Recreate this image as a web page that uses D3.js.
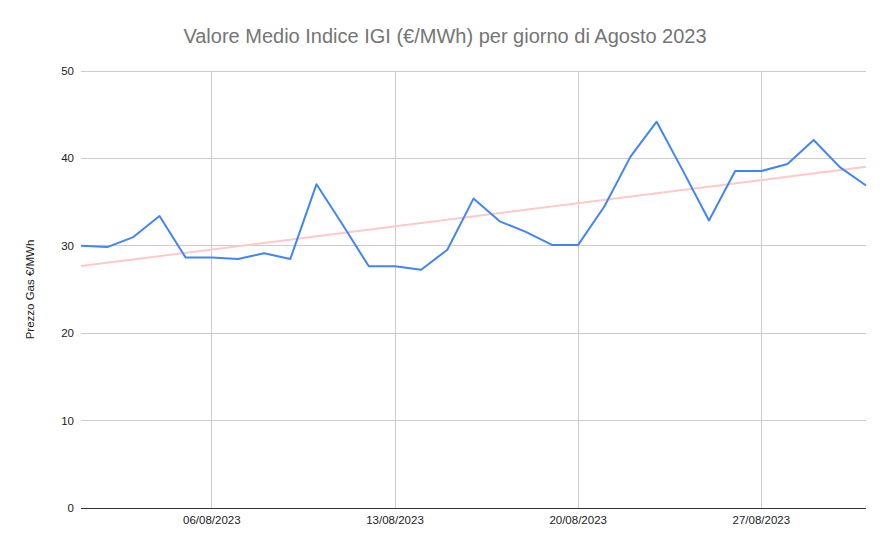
<!DOCTYPE html>
<html>
<head>
<meta charset="utf-8">
<script src="https://cdn.jsdelivr.net/npm/d3@7"></script>
<style>
  body { margin: 0; background: #fff; }
  svg { display: block; font-family: "Liberation Sans", Arial, sans-serif; }
</style>
</head>
<body>
<svg id="chart" width="890" height="553"></svg>
<script>
const title = "Valore Medio Indice IGI (€/MWh) per giorno di Agosto 2023";
const yTitle = "Prezzo Gas €/MWh";
const days = d3.range(1, 32).map(d => `2023-08-${String(d).padStart(2, "0")}`);
const values = [30.0, 29.85, 31.0, 33.4, 28.65, 28.65, 28.5, 29.15, 28.5, 37.05,
  32.4, 27.65, 27.65, 27.26, 29.55, 35.4, 32.8, 31.6, 30.1, 30.1,
  34.5, 40.2, 44.2, 38.6, 32.9, 38.55, 38.55, 39.35, 42.1, 39.0, 36.9];
const xTickDates = ["2023-08-06", "2023-08-13", "2023-08-20", "2023-08-27"];
const yTicks = [0, 10, 20, 30, 40, 50];

const parse = d3.utcParse("%Y-%m-%d");
const fmt = d3.utcFormat("%d/%m/%Y");
const data = days.map((d, i) => ({ date: parse(d), value: values[i] }));

const svg = d3.select("#chart");
const m = { left: 81, right: 24, top: 71, bottom: 45 };
const W = 890, H = 553;

const x = d3.scaleUtc()
  .domain([parse(days[0]), parse(days[days.length - 1])])
  .range([m.left, W - m.right]);
const y = d3.scaleLinear().domain([0, 50]).range([H - m.bottom, m.top]);

// horizontal gridlines
svg.append("g").selectAll("line").data(yTicks.filter(t => t > 0)).join("line")
  .attr("x1", m.left).attr("x2", W - m.right)
  .attr("y1", d => y(d)).attr("y2", d => y(d))
  .attr("stroke", "#cccccc").attr("stroke-width", 1).attr("shape-rendering", "crispEdges");

// vertical gridlines
const xTicks = xTickDates.map(parse);
svg.append("g").selectAll("line").data(xTicks).join("line")
  .attr("x1", d => x(d)).attr("x2", d => x(d))
  .attr("y1", m.top).attr("y2", H - m.bottom)
  .attr("stroke", "#cccccc").attr("stroke-width", 1).attr("shape-rendering", "crispEdges");

// y tick labels
svg.append("g").selectAll("text").data(yTicks).join("text")
  .attr("x", m.left - 7).attr("y", d => y(d)).attr("dy", "0.35em")
  .attr("text-anchor", "end").attr("font-size", 11.5).attr("fill", "#222")
  .text(d => d);

// x tick labels
svg.append("g").selectAll("text").data(xTicks).join("text")
  .attr("x", d => x(d)).attr("y", H - m.bottom + 16)
  .attr("text-anchor", "middle").attr("font-size", 11.5).attr("fill", "#222")
  .text(d => fmt(d));

// baseline
svg.append("line")
  .attr("x1", m.left).attr("x2", W - m.right)
  .attr("y1", y(0)).attr("y2", y(0))
  .attr("stroke", "#333").attr("stroke-width", 1).attr("shape-rendering", "crispEdges");

// linear trendline (least squares)
const xs = data.map((d, i) => i), n = xs.length;
const mx = d3.mean(xs), my = d3.mean(values);
const slope = d3.sum(xs, (xi, i) => (xi - mx) * (values[i] - my)) / d3.sum(xs, xi => (xi - mx) ** 2);
const icpt = my - slope * mx;
const trend = [0, n - 1].map(i => ({ date: data[i].date, value: icpt + slope * i }));
svg.append("path").datum(trend)
  .attr("fill", "none").attr("stroke", "#ffc9c9").attr("stroke-width", 2)
  .attr("d", d3.line().x(d => x(d.date)).y(d => y(d.value)));

// series line
svg.append("path").datum(data)
  .attr("fill", "none").attr("stroke", "#4285f4").attr("stroke-width", 2)
  .attr("stroke-linejoin", "round")
  .attr("d", d3.line().x(d => x(d.date)).y(d => y(d.value)));

// title
svg.append("text").attr("x", 445).attr("y", 43).attr("text-anchor", "middle")
  .attr("font-size", 20).attr("fill", "#757575").text(title);

// y axis title
svg.append("text")
  .attr("transform", `translate(34, ${(m.top + H - m.bottom) / 2}) rotate(-90)`)
  .attr("text-anchor", "middle").attr("font-size", 11.5).attr("fill", "#222")
  .text(yTitle);
</script>
</body>
</html>
